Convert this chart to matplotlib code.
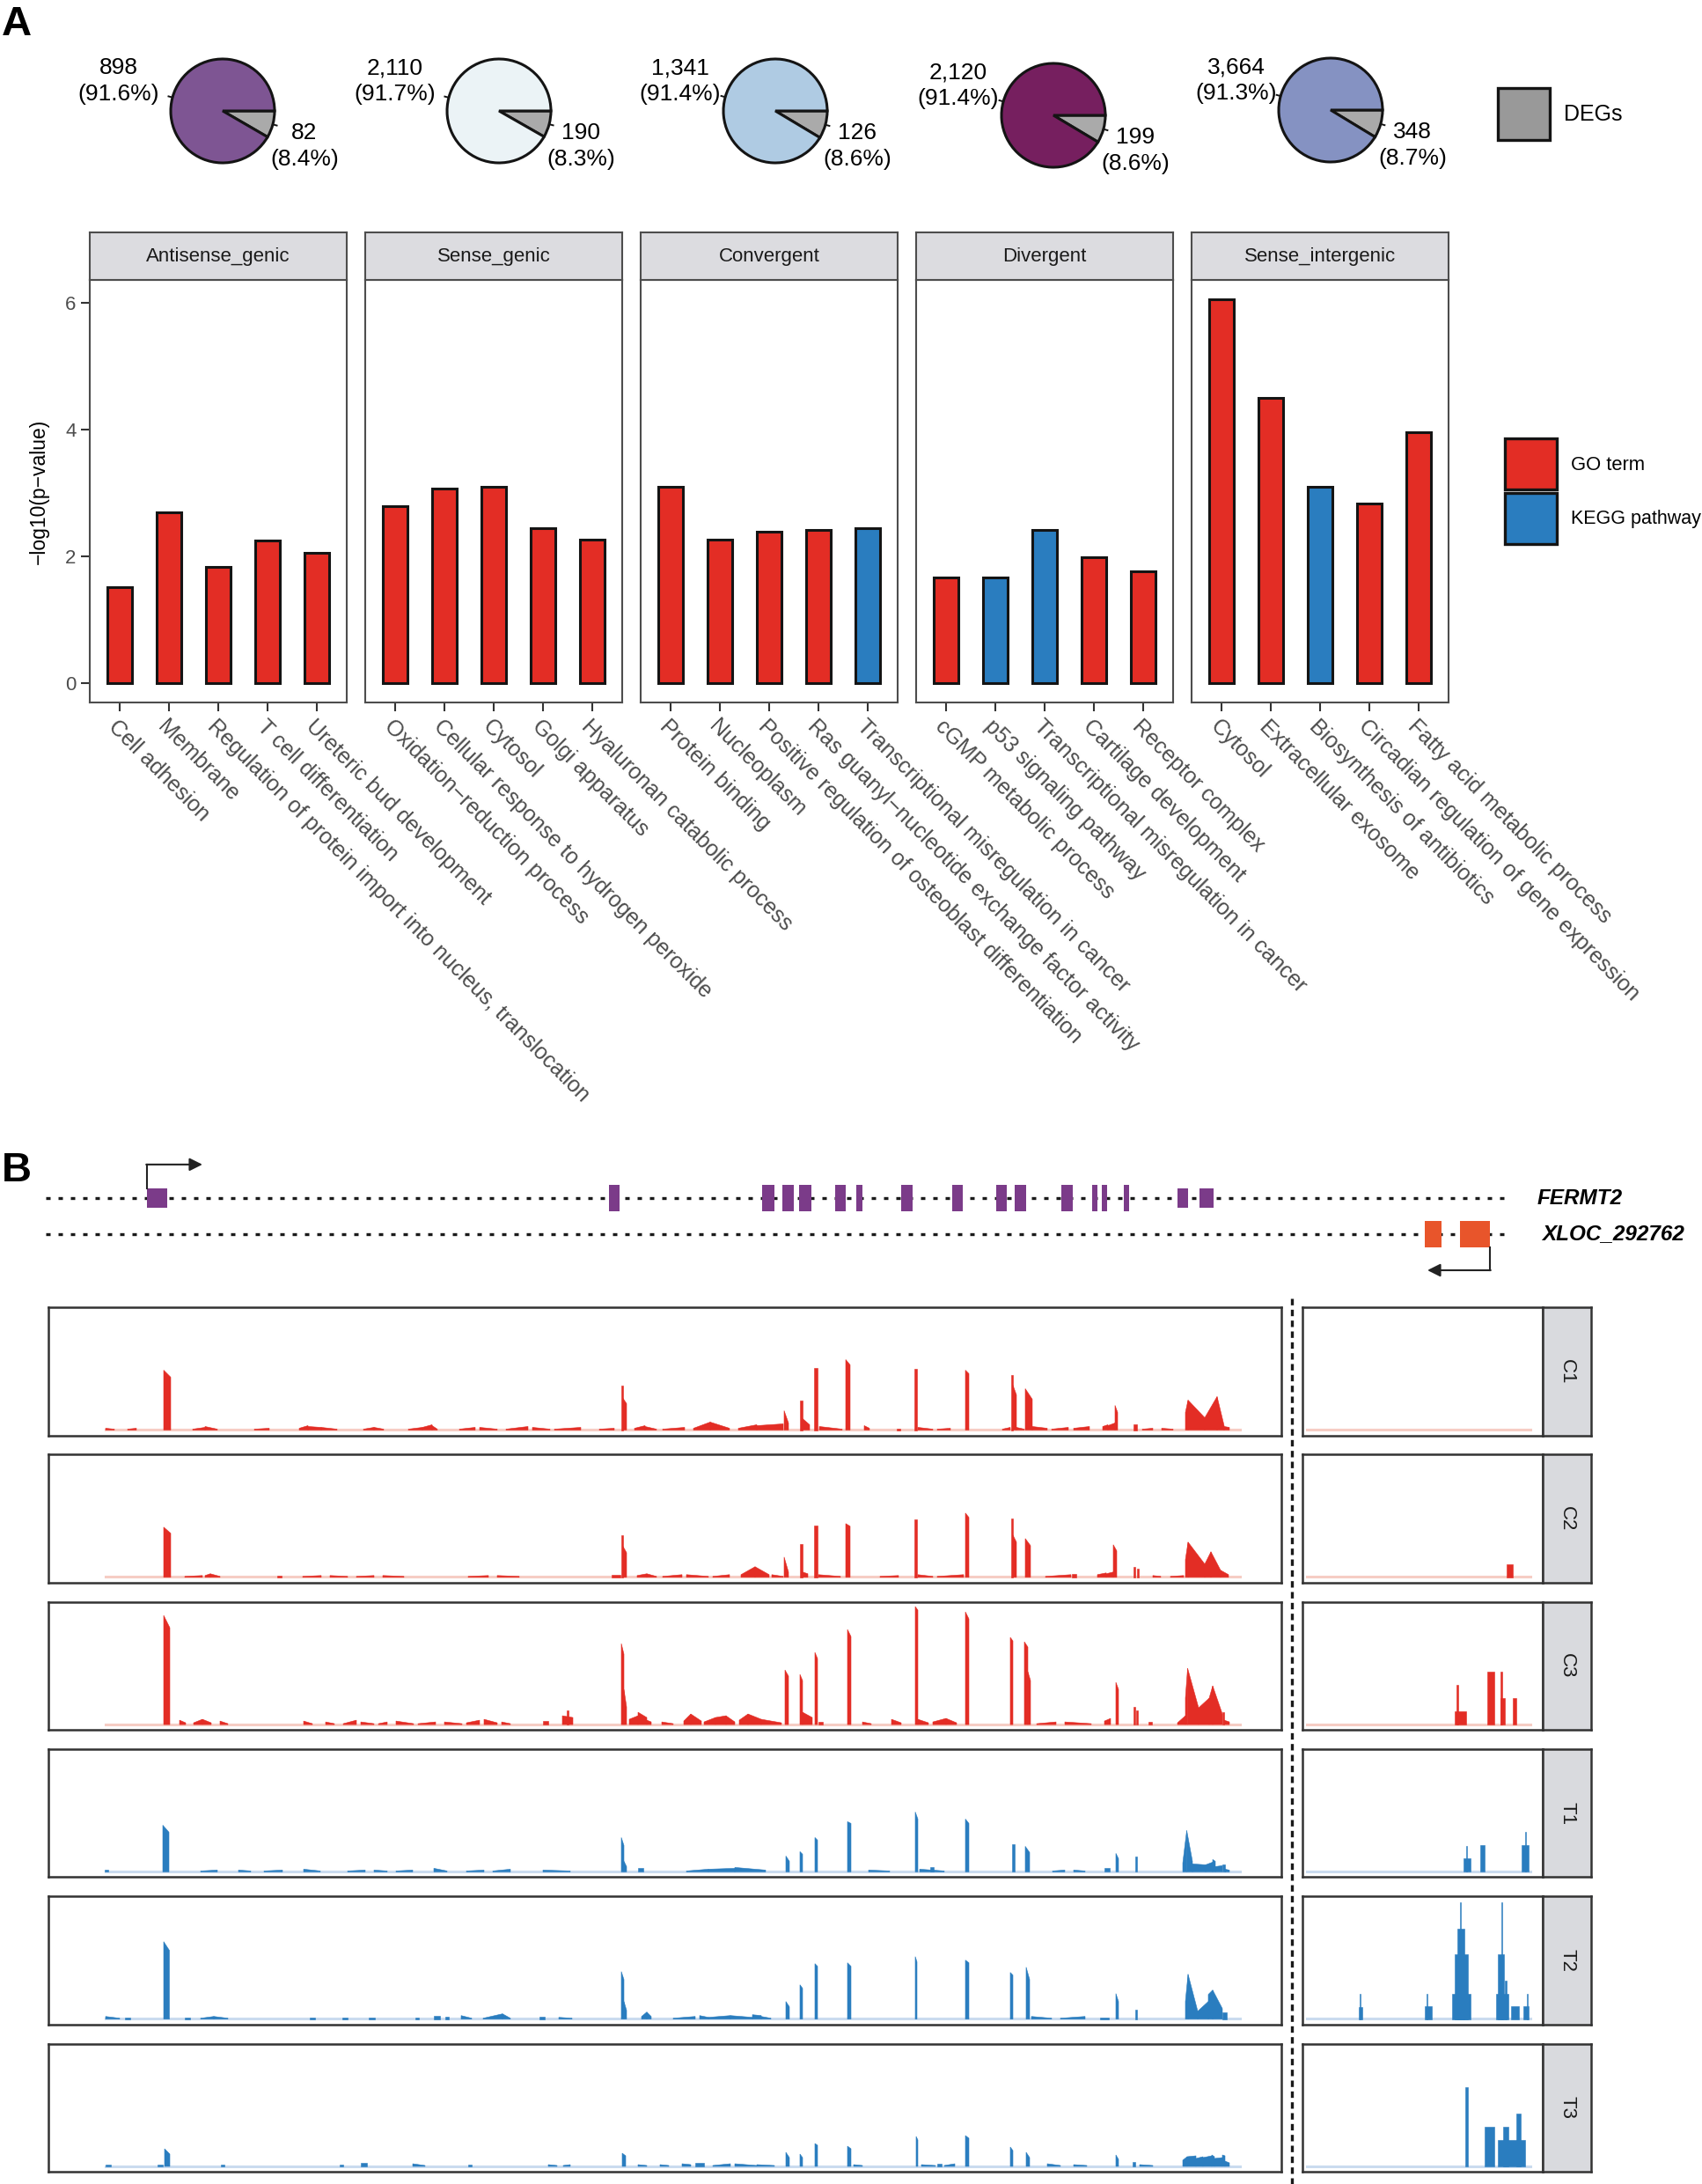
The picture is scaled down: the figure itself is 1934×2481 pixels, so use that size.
import numpy as np
import matplotlib
matplotlib.use('Agg')
import matplotlib.pyplot as plt
from matplotlib.patches import Rectangle

plt.rcParams['font.family'] = ['Liberation Sans', 'DejaVu Sans']

'''1. Data'''
# pies: lncRNA classes, non-DEG vs DEG counts
pie_groups = ['Antisense_genic', 'Sense_genic', 'Convergent', 'Divergent', 'Sense_intergenic']
non_deg = [898, 2110, 1341, 2120, 3664]
deg = [82, 190, 126, 199, 348]
pie_colors = ['#7E5593', '#EBF3F6', '#AFCBE3', '#761F5F', '#8592C2']

# enrichment bars
facets = ['Antisense_genic', 'Sense_genic', 'Convergent', 'Divergent', 'Sense_intergenic']
terms = [
    ['Cell adhesion', 'Membrane', 'Regulation of protein import into nucleus, translocation',
     'T cell differentiation', 'Ureteric bud development'],
    ['Oxidation\u2212reduction process', 'Cellular response to hydrogen peroxide', 'Cytosol',
     'Golgi apparatus', 'Hyaluronan catabolic process'],
    ['Protein binding', 'Nucleoplasm', 'Positive regulation of osteoblast differentiation',
     'Ras guanyl\u2212nucleotide exchange factor activity', 'Transcriptional misregulation in cancer'],
    ['cGMP metabolic process', 'p53 signaling pathway', 'Transcriptional misregulation in cancer',
     'Cartilage development', 'Receptor complex'],
    ['Cytosol', 'Extracellular exosome', 'Biosynthesis of antibiotics',
     'Circadian regulation of gene expression', 'Fatty acid metabolic process'],
]
log_p = [
    [1.52, 2.69, 1.83, 2.25, 2.05],
    [2.79, 3.07, 3.09, 2.44, 2.26],
    [3.09, 2.26, 2.39, 2.41, 2.45],
    [1.66, 1.66, 2.41, 1.99, 1.77],
    [6.06, 4.50, 3.10, 2.83, 3.96],
]
term_type = [
    ['GO term'] * 5,
    ['GO term'] * 5,
    ['GO term', 'GO term', 'GO term', 'GO term', 'KEGG pathway'],
    ['GO term', 'KEGG pathway', 'KEGG pathway', 'GO term', 'GO term'],
    ['GO term', 'GO term', 'KEGG pathway', 'GO term', 'GO term'],
]

# gene models (kb along locus)
fermt2_exons = [
    (11.2, 13.5, 'utr'), (63.7, 64.9, 'cds'), (81.1, 82.5, 'cds'), (83.4, 84.7, 'cds'),
    (85.3, 86.7, 'cds'), (89.4, 90.6, 'cds'), (91.8, 92.5, 'cds'), (96.9, 98.2, 'cds'),
    (102.7, 103.9, 'cds'), (107.7, 108.9, 'cds'), (109.8, 111.1, 'cds'), (115.1, 116.4, 'cds'),
    (118.6, 119.2, 'cds'), (119.7, 120.3, 'cds'), (122.2, 122.8, 'cds'), (128.3, 129.5, 'utr'),
    (130.8, 132.4, 'utr'),
]
xloc_exons = [(156.4, 158.3), (160.4, 163.8)]
locus_span = (-0.3, 166.3)

# coverage: (start, end, height at start, height at end)
main_span = (6.5, 135.4)
side_span = (0.5, 25.9)

c1_main = [
    (13.1, 13.9, 68, 60), (65.1, 65.3, 51, 51), (65.3, 65.7, 36, 30), (83.6, 84.1, 22, 8),
    (85.4, 85.7, 34, 34), (85.7, 86.5, 13, 6), (87.0, 87.4, 71, 71), (90.6, 91.1, 80, 74),
    (98.4, 98.7, 70, 70), (104.2, 104.6, 68, 64), (109.4, 109.6, 63, 63), (109.6, 110.0, 51, 40),
    (111.0, 111.8, 47, 35), (120.4, 121.2, 5, 8), (121.2, 121.5, 28, 20), (123.3, 123.7, 7, 7),
    (129.2, 129.5, 20, 34), (129.5, 131.4, 34, 14), (131.4, 132.8, 14, 38), (132.8, 133.6, 38, 5),
    (133.6, 134.2, 4, 3),
    (6.5, 7.5, 2, 1), (9.0, 10.0, 1, 2), (16.4, 17.8, 1, 3), (17.8, 19.2, 4, 1), (23.4, 25.1, 1, 2),
    (28.5, 29.5, 2, 5), (29.5, 31.0, 4, 3), (31.0, 32.8, 3, 1), (35.8, 37.0, 1, 3), (37.0, 38.1, 3, 1),
    (40.9, 42.5, 1, 3), (42.5, 43.6, 3, 6), (43.6, 44.2, 5, 1), (46.7, 48.5, 1, 3), (49.0, 51.0, 3, 1),
    (52.0, 54.5, 1, 4), (55.0, 57.0, 3, 1), (57.5, 60.5, 1, 3), (62.6, 64.3, 1, 2), (66.6, 67.8, 2, 5),
    (67.8, 69.1, 4, 1), (69.8, 72.3, 1, 3), (73.3, 75.2, 2, 9), (75.2, 77.4, 9, 2), (78.4, 80.5, 2, 6),
    (80.5, 83.5, 5, 7), (87.6, 90.2, 4, 1), (92.7, 93.3, 5, 2), (96.4, 96.8, 2, 2), (98.8, 100.5, 3, 1),
    (101.0, 102.5, 1, 2), (108.4, 109.3, 1, 3), (110.0, 110.9, 3, 1), (111.8, 113.5, 4, 2),
    (114.0, 115.9, 1, 3), (116.5, 118.3, 2, 4), (119.8, 120.4, 4, 6), (124.3, 125.5, 1, 2),
    (126.5, 127.8, 2, 1),
]
c1_side = []

c2_main = [
    (13.1, 13.9, 57, 50), (65.1, 65.3, 48, 48), (65.3, 65.7, 35, 28), (83.6, 84.1, 23, 6),
    (85.4, 85.7, 38, 38), (85.7, 86.3, 6, 4), (87.0, 87.4, 59, 59), (90.6, 91.1, 61, 58),
    (98.4, 98.7, 66, 66), (104.2, 104.6, 73, 68), (109.4, 109.6, 67, 67), (109.6, 110.0, 48, 40),
    (111.0, 111.6, 44, 36), (120.2, 121.0, 4, 6), (121.0, 121.4, 37, 30), (123.3, 123.5, 12, 12),
    (123.7, 123.9, 10, 10), (129.2, 129.5, 20, 40), (129.5, 131.4, 40, 15), (131.4, 132.1, 15, 29),
    (132.1, 133.2, 29, 8), (133.2, 134.1, 8, 3),
    (15.5, 17.5, 1, 2), (17.8, 18.4, 2, 4), (18.4, 19.5, 4, 1), (26.0, 26.5, 2, 2), (28.9, 31.0, 1, 2),
    (32.0, 34.0, 2, 1), (35.0, 37.0, 1, 2), (38.0, 40.4, 2, 1), (47.7, 50.0, 1, 2), (51.0, 53.5, 2, 1),
    (64.0, 65.0, 3, 3), (66.9, 68.0, 2, 4), (68.0, 69.1, 4, 1), (69.8, 72.0, 1, 3), (72.5, 75.0, 3, 1),
    (75.5, 77.4, 1, 3), (78.7, 80.3, 3, 12), (80.3, 81.9, 12, 3), (82.2, 83.5, 3, 1), (87.5, 90.0, 3, 1),
    (94.5, 96.6, 1, 2), (98.8, 100.5, 3, 1), (101.0, 104.0, 1, 3), (113.3, 116.2, 1, 3),
    (116.3, 116.8, 4, 4), (119.2, 120.2, 3, 5), (125.5, 126.4, 2, 1), (127.5, 129.0, 1, 2),
]
c2_side = [(23.2, 23.9, 15, 15)]

c3_main = [
    (13.1, 13.8, 124, 110), (65.1, 65.4, 92, 80), (65.4, 65.7, 40, 20), (83.7, 84.1, 62, 55),
    (85.4, 85.7, 57, 50), (85.7, 86.8, 14, 8), (87.1, 87.4, 82, 75), (90.8, 91.2, 108, 100),
    (98.5, 98.8, 134, 130), (104.2, 104.6, 128, 120), (109.3, 109.6, 99, 95), (110.9, 111.3, 94, 88),
    (111.3, 111.6, 60, 50), (121.3, 121.6, 48, 40), (123.3, 123.5, 20, 20), (123.6, 123.8, 16, 16),
    (128.3, 129.2, 2, 10), (129.2, 129.45, 30, 64), (129.45, 130.7, 64, 19), (130.7, 131.9, 19, 30),
    (131.9, 132.3, 30, 44), (132.3, 133.4, 44, 12), (133.4, 133.6, 14, 14), (133.6, 134.2, 5, 3),
    (14.9, 15.6, 5, 2), (16.5, 17.5, 2, 6), (17.5, 18.5, 6, 2), (19.5, 20.4, 4, 1), (29.0, 30.0, 4, 1),
    (31.5, 32.5, 3, 1), (33.5, 35.0, 1, 5), (35.5, 37.0, 3, 1), (37.5, 38.5, 1, 3), (39.5, 41.5, 4, 1),
    (42.0, 44.0, 1, 3), (45.0, 47.0, 3, 1), (47.5, 49.0, 2, 5), (49.5, 51.0, 6, 2), (51.5, 52.5, 3, 1),
    (56.2, 56.8, 4, 4), (58.4, 59.6, 10, 8), (58.9, 59.1, 16, 16), (66.0, 67.0, 6, 10), (67.0, 68.0, 14, 8),
    (68.0, 68.5, 5, 3), (69.7, 71.0, 3, 1), (72.2, 73.0, 4, 12), (73.0, 74.2, 12, 4), (74.5, 75.8, 3, 8),
    (75.8, 77.0, 8, 10), (77.0, 78.0, 10, 3), (78.5, 79.5, 5, 12), (79.5, 81.0, 12, 6), (81.0, 83.3, 6, 2),
    (87.5, 88.0, 3, 3), (92.5, 93.5, 3, 1), (95.8, 96.9, 6, 2), (98.8, 100.0, 6, 2), (100.5, 102.0, 3, 7),
    (102.0, 103.2, 7, 2), (112.3, 114.5, 1, 3), (115.5, 118.5, 3, 1), (120.0, 120.7, 4, 7),
    (125.0, 125.4, 3, 3),
]
c3_side = [(17.3, 18.6, 15, 15), (17.5, 17.7, 45, 45), (21.0, 21.8, 60, 60), (22.5, 23.0, 30, 30),
           (22.5, 22.7, 60, 60), (23.9, 24.3, 30, 30)]

t1_main = [
    (13.0, 13.7, 53, 45), (65.1, 65.4, 39, 30), (65.4, 65.7, 12, 6), (83.8, 84.2, 18, 12),
    (85.4, 85.7, 23, 20), (87.1, 87.4, 39, 36), (90.8, 91.2, 57, 55), (98.5, 98.8, 68, 60),
    (104.2, 104.6, 60, 55), (109.45, 109.75, 31, 31), (111.0, 111.5, 29, 22), (121.3, 121.6, 21, 15),
    (123.5, 123.7, 17, 17), (128.9, 129.35, 10, 47), (129.35, 130.0, 47, 12), (130.0, 131.5, 9, 8),
    (131.5, 132.3, 8, 11), (132.3, 132.6, 14, 12), (132.6, 133.4, 6, 7), (133.4, 133.7, 8, 8),
    (133.7, 134.2, 3, 2),
    (6.4, 6.8, 2, 2), (17.3, 19.2, 1, 2), (21.6, 23.0, 2, 1), (24.5, 26.6, 1, 2), (29.0, 30.9, 3, 1),
    (34.0, 36.0, 1, 2), (37.0, 38.5, 2, 1), (39.5, 41.4, 1, 2), (43.8, 45.3, 4, 1), (47.5, 49.5, 1, 2),
    (50.5, 52.5, 1, 3), (56.2, 59.3, 2, 1), (67.0, 67.6, 4, 4), (72.5, 75.0, 1, 3), (75.0, 78.0, 3, 4),
    (78.0, 81.5, 5, 2), (93.2, 95.6, 2, 1), (99.0, 101.8, 3, 1), (100.2, 100.6, 5, 5),
    (114.1, 115.5, 1, 2), (116.5, 117.8, 2, 1), (120.0, 120.6, 4, 4),
]
t1_side = [(18.3, 19.1, 15, 15), (18.55, 18.65, 29, 29), (20.2, 20.7, 30, 30), (24.9, 25.7, 30, 30),
           (25.25, 25.4, 45, 45)]

t2_main = [
    (13.1, 13.75, 88, 78), (65.1, 65.4, 54, 45), (65.4, 65.7, 20, 10), (83.8, 84.2, 20, 14),
    (85.4, 85.7, 39, 35), (87.1, 87.4, 63, 60), (90.8, 91.2, 64, 60), (98.5, 98.7, 71, 65),
    (104.2, 104.6, 67, 64), (109.3, 109.6, 53, 50), (111.1, 111.5, 59, 45), (121.3, 121.6, 29, 20),
    (123.5, 123.7, 11, 11), (129.2, 129.5, 20, 51), (129.5, 130.6, 51, 9), (130.6, 131.8, 9, 20),
    (131.8, 132.3, 28, 33), (132.3, 133.4, 33, 12), (133.4, 133.9, 8, 8),
    (6.5, 8.1, 3, 1), (8.7, 9.3, 2, 2), (15.5, 16.1, 2, 2), (17.3, 18.8, 1, 3), (18.8, 20.4, 3, 1),
    (29.7, 30.3, 2, 2), (33.4, 34.0, 2, 2), (36.4, 37.1, 2, 2), (41.7, 42.1, 2, 2), (43.8, 44.5, 4, 4),
    (45.1, 45.5, 3, 3), (46.9, 48.1, 4, 1), (49.4, 51.6, 1, 6), (51.6, 52.5, 6, 1), (55.8, 56.4, 3, 3),
    (58.0, 59.5, 2, 1), (67.4, 68.0, 3, 8), (68.0, 68.5, 8, 3), (71.0, 73.5, 1, 3), (74.0, 75.0, 4, 2),
    (75.0, 77.5, 2, 4), (77.5, 80.0, 4, 2), (80.0, 81.0, 5, 4), (81.0, 82.1, 3, 1), (111.7, 114.0, 3, 1),
    (115.0, 117.8, 1, 3), (119.5, 120.5, 2, 2),
]
t2_side = [(6.4, 6.8, 14, 14), (6.5, 6.6, 29, 29), (13.9, 14.7, 15, 15), (14.1, 14.2, 29, 29),
           (17.0, 19.1, 29, 29), (17.3, 18.75, 74, 74), (17.6, 18.4, 103, 103), (17.85, 17.95, 133, 133),
           (22.0, 23.4, 29, 29), (22.2, 22.9, 74, 74), (22.55, 22.65, 133, 133), (23.0, 23.2, 44, 44),
           (23.7, 24.6, 15, 15), (25.1, 25.7, 15, 15), (25.45, 25.55, 29, 29)]

t3_main = [
    (13.2, 13.8, 20, 14), (65.2, 65.6, 15, 12), (83.8, 84.2, 16, 10), (85.4, 85.7, 14, 10),
    (87.1, 87.4, 26, 24), (90.8, 91.2, 23, 20), (98.6, 98.8, 34, 30), (104.2, 104.6, 35, 32),
    (109.3, 109.6, 22, 18), (111.1, 111.5, 16, 10), (121.3, 121.6, 13, 8), (123.2, 123.5, 5, 5),
    (128.9, 129.4, 7, 11), (129.4, 130.4, 11, 12), (130.4, 131.2, 9, 11), (131.2, 132.2, 10, 12),
    (132.2, 132.5, 13, 11), (132.5, 133.4, 9, 10), (133.4, 133.7, 13, 12), (133.7, 134.2, 6, 4),
    (6.5, 7.1, 2, 2), (12.4, 13.0, 2, 2), (19.6, 20.0, 2, 2), (33.1, 33.5, 2, 2), (35.5, 36.2, 4, 4),
    (41.4, 42.8, 3, 1), (47.7, 48.1, 2, 2), (56.8, 57.8, 2, 1), (58.5, 59.3, 1, 2), (67.0, 68.0, 2, 1),
    (69.5, 70.5, 2, 1), (72.0, 73.0, 3, 2), (73.5, 74.5, 4, 4), (75.5, 77.5, 1, 3), (78.0, 80.5, 3, 1),
    (80.5, 82.5, 2, 1), (91.5, 92.5, 2, 1), (99.2, 100.8, 2, 1), (101.0, 101.5, 3, 3), (101.8, 103.0, 1, 3),
    (113.5, 115.0, 3, 1), (116.5, 118.0, 2, 1), (124.0, 125.5, 2, 1),
]
t3_side = [(18.45, 18.8, 90, 90), (20.7, 21.8, 45, 45), (22.2, 25.3, 30, 30), (22.8, 23.4, 45, 45),
           (24.3, 24.8, 60, 60)]

track_names = ['C1', 'C2', 'C3', 'T1', 'T2', 'T3']
track_main = [c1_main, c2_main, c3_main, t1_main, t2_main, t3_main]
track_side = [c1_side, c2_side, c3_side, t1_side, t2_side, t3_side]

'''2. Figure helpers'''
W, H = 1934, 2481
fig = plt.figure(figsize=(W / 100, H / 100), dpi=100)


def px_box(x0, y0, x1, y1):
    return [x0 / W, 1 - y1 / H, (x1 - x0) / W, (y1 - y0) / H]


RED = '#E32D25'
BLUE = '#2A7DBF'
EDGE = '#141414'
STRIP = '#DCDCE0'
FRAME = '#4D4D4D'

overlay = fig.add_axes([0, 0, 1, 1])
overlay.set_xlim(0, W)
overlay.set_ylim(H, 0)
overlay.axis('off')

overlay.text(2, 40, 'A', fontsize=34, fontweight='bold', ha='left', va='baseline')
overlay.text(2, 1342, 'B', fontsize=34, fontweight='bold', ha='left', va='baseline')

'''3. Pies'''
pie_cx = [253, 567, 881, 1197, 1512]
pie_cy = [126, 126, 126, 131, 125]
big_dx = [-118, -118, -108, -108, -107]
r_px = 59
k = 2.6
for i in range(len(pie_groups)):
    cx, cy = pie_cx[i], pie_cy[i]
    ax = fig.add_axes(px_box(cx - k * r_px, cy - k * r_px, cx + k * r_px, cy + k * r_px))
    total = non_deg[i] + deg[i]
    frac = deg[i] / total
    ax.pie([deg[i], non_deg[i]], colors=['#AAAAAA', pie_colors[i]], startangle=0, counterclock=False,
           radius=1, wedgeprops=dict(edgecolor=EDGE, linewidth=2.2))
    ax.set_xlim(-k, k)
    ax.set_ylim(-k, k)
    ax.set_aspect('equal')
    ax.axis('off')
    for ang in (np.deg2rad(-frac * 180), np.deg2rad(180 - frac * 180)):
        ax.plot([np.cos(ang), 1.08 * np.cos(ang)], [np.sin(ang), 1.08 * np.sin(ang)],
                color=EDGE, lw=1.4, clip_on=False)
    big = f"{non_deg[i]:,}\n({non_deg[i] / total * 100:.1f}%)"
    small = f"{deg[i]:,}\n({deg[i] / total * 100:.1f}%)"
    ax.text(big_dx[i] / r_px, 34 / r_px, big, ha='center', va='center', multialignment='center',
            fontsize=19, linespacing=1.3, clip_on=False)
    ax.text(93 / r_px, -40 / r_px, small, ha='center', va='center', multialignment='center',
            fontsize=19, linespacing=1.3, clip_on=False)

overlay.add_patch(Rectangle((1702, 100), 59, 59, facecolor='#999999', edgecolor=EDGE, lw=2.4))
overlay.text(1777, 130, 'DEGs', fontsize=18, va='center', ha='left')

'''4. Enrichment bars'''
type_colors = {'GO term': RED, 'KEGG pathway': BLUE}
for i, facet in enumerate(facets):
    x0 = 102 + 313 * i
    ax = fig.add_axes(px_box(x0, 318, x0 + 292, 798))
    xs = np.arange(len(terms[i]))
    ax.bar(xs, log_p[i], width=0.5, color=[type_colors[t] for t in term_type[i]],
           edgecolor=EDGE, linewidth=2.2, zorder=3)
    ax.set_xlim(-0.6, len(xs) - 0.4)
    ax.set_ylim(-0.305, 6.36)
    ax.set_xticks(xs)
    ax.set_xticklabels(terms[i], rotation=-45, ha='left', va='top', rotation_mode='anchor',
                       fontsize=18, color='#4D4D4D')
    ax.set_yticks([0, 2, 4, 6])
    ax.tick_params(length=7, width=1.5, color='#333333', pad=4)
    if i == 0:
        ax.set_yticklabels(['0', '2', '4', '6'], fontsize=16, color='#4D4D4D')
    else:
        ax.tick_params(axis='y', left=False, labelleft=False)
    for s in ax.spines.values():
        s.set_color(FRAME)
        s.set_linewidth(1.5)
    sax = fig.add_axes(px_box(x0, 264, x0 + 292, 318))
    sax.set_facecolor(STRIP)
    sax.set_xticks([])
    sax.set_yticks([])
    for s in sax.spines.values():
        s.set_color(FRAME)
        s.set_linewidth(1.5)
    sax.text(0.5, 0.5, facet, ha='center', va='center', fontsize=16, color='#1A1A1A',
             transform=sax.transAxes)

fig.text(44 / W, 1 - 558 / H, '\u2212log10(p\u2212value)', rotation=90, fontsize=16.5,
         ha='center', va='center')

overlay.add_patch(Rectangle((1710, 498), 59, 58, facecolor=RED, edgecolor=EDGE, lw=2.4))
overlay.add_patch(Rectangle((1710, 560), 59, 58, facecolor=BLUE, edgecolor=EDGE, lw=2.4))
overlay.text(1785, 528, 'GO term', fontsize=15.8, va='center', ha='left')
overlay.text(1785, 590, 'KEGG pathway', fontsize=15.5, va='center', ha='left')

'''5. Gene models'''
gax = fig.add_axes(px_box(0, 1290, W, 1460))
gax.set_xlim(-5.5, 187.9)
gax.set_ylim(-(1460 - 1402) / 41, (1402 - 1290) / 41)
gax.axis('off')
dot_style = (0, (1.5, 2.7))
gax.plot(locus_span, [1, 1], color='#1A1A1A', lw=2.4, linestyle=dot_style, zorder=1)
gax.plot(locus_span, [0, 0], color='#1A1A1A', lw=2.4, linestyle=dot_style, zorder=1)
for s, e, kind in fermt2_exons:
    hh = 0.27 if kind == 'utr' else 0.378
    gax.add_patch(Rectangle((s, 1 - hh), e - s, 2 * hh, facecolor='#7B3B89', edgecolor='none', zorder=2))
for s, e in xloc_exons:
    gax.add_patch(Rectangle((s, -0.366), e - s, 0.732, facecolor='#E8552B', edgecolor='none', zorder=2))

tss_f = fermt2_exons[0][0]
gax.plot([tss_f, tss_f], [1.27, 1.93], color='#222222', lw=1.5)
gax.annotate('', xy=(tss_f + 6.3, 1.93), xytext=(tss_f - 0.08, 1.93),
             arrowprops=dict(arrowstyle='-|>', lw=1.5, color='#222222', mutation_scale=22,
                             shrinkA=0, shrinkB=0))
tss_x = xloc_exons[-1][1]
gax.plot([tss_x, tss_x], [-0.366, -1.0], color='#222222', lw=1.5)
gax.annotate('', xy=(tss_x - 7.1, -1.0), xytext=(tss_x + 0.08, -1.0),
             arrowprops=dict(arrowstyle='-|>', lw=1.5, color='#222222', mutation_scale=22,
                             shrinkA=0, shrinkB=0))
gax.text(169.2, 1, 'FERMT2', fontsize=17.5, fontweight='bold', style='italic', va='center', ha='left')
gax.text(169.7, 0, 'XLOC_292762', fontsize=17.5, fontweight='bold', style='italic', va='center', ha='left')

'''6. Coverage tracks'''


def draw_cov(ax, peaks, color):
    for s, e, h0, h1 in peaks:
        ax.fill([s, s, e, e], [0, h0, h1, 0], color=color, lw=0.4, ec=color, zorder=2)


def frame(ax, face='white'):
    ax.set_facecolor(face)
    ax.set_xticks([])
    ax.set_yticks([])
    for s in ax.spines.values():
        s.set_color('#333333')
        s.set_linewidth(1.8)


for r, name in enumerate(track_names):
    top = 1485 + 167.3 * r
    bot = top + 145.5
    col = RED if name.startswith('C') else BLUE
    light = '#F6CDC4' if name.startswith('C') else '#CADBEF'

    lax = fig.add_axes(px_box(55, top, 1456, bot))
    frame(lax)
    lax.set_xlim(0, 140.1)
    lax.set_ylim(-6, 139.5)
    lax.plot(main_span, [0.4, 0.4], color=light, lw=2.2, zorder=1)
    draw_cov(lax, track_main[r], col)

    rax = fig.add_axes(px_box(1480, top, 1753, bot))
    frame(rax)
    rax.set_xlim(0, 27.3)
    rax.set_ylim(-6, 139.5)
    rax.plot(side_span, [0.4, 0.4], color=light, lw=2.2, zorder=1)
    draw_cov(rax, track_side[r], col)

    sax = fig.add_axes(px_box(1753, top, 1808, bot))
    frame(sax, '#D9DADE')
    sax.text(0.5, 0.5, name, rotation=-90, ha='center', va='center', fontsize=16,
             color='#1A1A1A', transform=sax.transAxes)

overlay.plot([1468, 1468], [1475, H], color='#1A1A1A', lw=2.4, linestyle=(0, (2.2, 1.5)))

fig.savefig('out.png', dpi=100)
